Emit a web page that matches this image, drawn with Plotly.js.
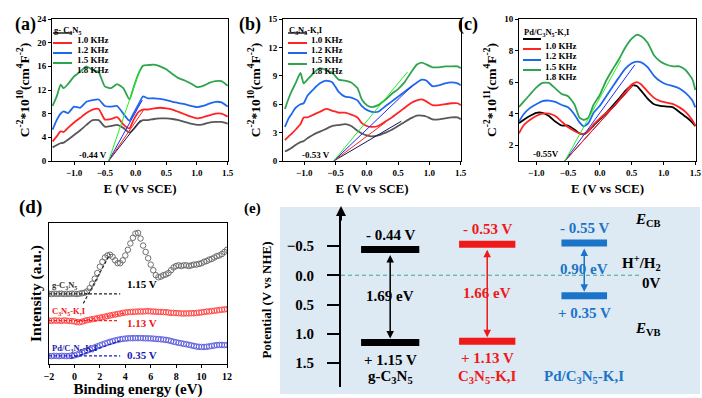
<!DOCTYPE html>
<html>
<head>
<meta charset="utf-8">
<script src="https://cdn.plot.ly/plotly-3.0.1.min.js"></script>
<style>
  html, body { margin: 0; padding: 0; background: #fff; }
  #chart { width: 702px; height: 398px; }
</style>
</head>
<body>
<div id="chart"></div>
<script>
// ---------- data ----------
const FREQS = ['1.0 KHz', '1.2 KHz', '1.5 KHz', '1.8 KHz'];

// (a) g-C3N5, Mott-Schottky, C^-2 * 1e10
const A_E   = [-1.35, -1.28, -1.22, -1.17, -1.1, -1.0, -0.9, -0.8, -0.7, -0.6, -0.5, -0.4, -0.3, -0.2, -0.1, -0.03, 0.05, 0.12, 0.2, 0.3, 0.4, 0.5, 0.6, 0.7, 0.8, 0.9, 1.0, 1.1, 1.2, 1.3, 1.4, 1.5];
const A_1K0 = [2.3, 2.7, 3.0, 3.1, 3.6, 4.4, 5.2, 6.1, 6.9, 6.9, 5.8, 5.9, 6.1, 5.6, 4.8, 5.4, 6.4, 6.9, 6.9, 7.1, 7.2, 7.2, 7.1, 6.9, 6.6, 6.3, 6.1, 6.2, 6.5, 6.6, 6.6, 6.3];
const A_1K2 = [3.3, 4.2, 5.0, 4.9, 5.6, 6.5, 7.3, 8.1, 8.7, 8.8, 7.0, 7.1, 7.4, 6.2, 5.5, 7.0, 8.3, 8.7, 8.7, 8.9, 9.0, 8.9, 8.7, 8.3, 7.9, 7.5, 7.2, 7.4, 7.7, 8.0, 8.0, 7.5];
const A_1K5 = [5.3, 7.0, 8.0, 8.4, 8.1, 9.2, 9.0, 10.0, 10.3, 10.4, 9.3, 9.2, 9.3, 8.0, 6.8, 8.1, 9.6, 10.9, 10.6, 10.6, 10.5, 10.3, 10.0, 9.8, 9.6, 9.3, 9.1, 9.3, 9.7, 10.0, 9.9, 9.2];
const A_1K8 = [9.3, 11.0, 12.9, 12.3, 13.0, 14.3, 15.1, 16.0, 15.4, 15.0, 12.6, 12.3, 13.0, 12.3, 10.4, 12.5, 14.8, 16.1, 16.2, 16.3, 16.0, 15.5, 14.7, 14.0, 13.6, 13.1, 12.5, 12.7, 13.2, 13.5, 13.5, 12.7];
const A_ONSET = -0.44;
const A_TAN_X = [0.08, 0.13, 0.11, 0.07];
const A_TAN_Y = [6.9, 8.6, 10.3, 15.4];

// (b) C3N5-K,I, C^-2 * 1e10
const B_E   = [-1.31, -1.25, -1.2, -1.14, -1.06, -1.01, -0.95, -0.85, -0.75, -0.65, -0.55, -0.45, -0.35, -0.25, -0.15, -0.08, 0.0, 0.08, 0.18, 0.3, 0.4, 0.5, 0.6, 0.7, 0.8, 0.88, 0.95, 1.05, 1.15, 1.25, 1.35, 1.45, 1.5];
const B_1K0 = [1.0, 1.2, 1.4, 1.7, 2.0, 2.1, 2.4, 2.8, 3.1, 3.4, 3.7, 3.8, 3.9, 3.7, 3.2, 2.9, 2.7, 2.6, 2.7, 3.0, 3.3, 3.7, 4.1, 4.5, 4.8, 4.8, 4.7, 4.4, 4.4, 4.5, 4.6, 4.6, 4.4];
const B_1K2 = [2.2, 2.6, 2.9, 3.3, 3.9, 4.6, 4.6, 4.9, 5.2, 5.5, 5.3, 5.1, 5.1, 4.9, 4.6, 4.0, 3.7, 3.6, 3.7, 4.2, 4.6, 5.1, 5.6, 6.1, 6.4, 6.5, 6.3, 5.9, 5.9, 6.0, 6.1, 6.1, 5.9];
const B_1K5 = [3.6, 4.5, 5.0, 5.6, 6.0, 6.1, 6.9, 7.6, 8.2, 8.5, 8.3, 7.3, 6.8, 6.7, 6.4, 5.8, 5.4, 5.2, 5.2, 5.8, 6.3, 6.8, 7.3, 7.8, 8.3, 8.6, 8.5, 7.9, 8.0, 8.2, 8.3, 8.2, 8.0];
const B_1K8 = [5.5, 6.6, 7.4, 8.2, 9.3, 8.2, 8.6, 9.3, 9.8, 9.6, 9.3, 8.6, 8.5, 8.3, 7.7, 6.5, 5.9, 5.7, 5.9, 6.5, 7.1, 7.6, 8.3, 9.3, 10.2, 10.4, 10.2, 9.9, 9.9, 10.0, 10.0, 10.0, 9.8];
const B_ONSET = -0.53;
const B_TAN_X = [0.55, 0.3, 0.72, 0.65];
const B_TAN_Y = [4.2, 4.1, 7.9, 9.4];

// (c) Pd/C3N5-K,I, C^-2 * 1e11
const C_E   = [-1.27, -1.2, -1.1, -1.0, -0.9, -0.8, -0.7, -0.6, -0.5, -0.4, -0.32, -0.25, -0.18, -0.1, 0.0, 0.1, 0.2, 0.3, 0.4, 0.5, 0.58, 0.65, 0.75, 0.85, 0.95, 1.05, 1.15, 1.25, 1.35, 1.45, 1.5];
const C_1K0 = [3.4, 3.6, 3.85, 4.05, 4.05, 3.85, 3.5, 3.25, 3.25, 3.0, 2.75, 2.7, 2.9, 3.25, 3.65, 4.05, 4.5, 4.95, 5.45, 5.8, 5.75, 5.45, 4.95, 4.6, 4.5, 4.45, 4.4, 4.1, 3.8, 3.45, 3.2];
const C_1K2 = [2.75, 3.25, 3.6, 3.85, 4.0, 4.0, 3.85, 3.5, 3.15, 2.9, 2.75, 2.7, 2.9, 3.3, 3.7, 4.05, 4.4, 4.85, 5.35, 5.85, 6.0, 5.85, 5.4, 5.0, 4.8, 4.7, 4.6, 4.4, 4.1, 3.6, 3.25];
const C_1K5 = [3.5, 3.95, 4.35, 4.6, 4.8, 4.83, 4.75, 4.55, 4.4, 3.95, 3.45, 3.2, 3.4, 4.05, 4.5, 5.1, 5.7, 6.3, 6.85, 7.2, 7.3, 7.25, 6.95, 6.4, 6.05, 5.85, 5.75, 5.6, 5.3, 4.85, 4.4];
const C_1K8 = [4.43, 4.75, 5.2, 5.65, 5.95, 5.95, 5.6, 5.25, 5.1, 4.6, 3.75, 3.6, 3.75, 4.55, 5.2, 6.1, 6.8, 7.45, 8.2, 8.75, 9.0, 8.9, 8.5, 7.7, 7.3, 7.1, 7.0, 7.0, 6.75, 6.2, 5.5];
const C_ONSET = -0.55;
const C_TAN_X = [0.5, 0.55, 0.55, 0.33];
const C_TAN_Y = [5.7, 5.9, 7.1, 7.4];

// (d) VB-XPS, intensity in arbitrary units
const D_E = [-2, -1.8, -1.6, -1.4, -1.2, -1, -0.8, -0.6, -0.4, -0.2, 0, 0.2, 0.4, 0.6, 0.8, 1, 1.2, 1.4, 1.6, 1.8, 2, 2.2, 2.4, 2.6, 2.8, 3, 3.2, 3.4, 3.6, 3.8, 4, 4.2, 4.4, 4.6, 4.8, 5, 5.2, 5.4, 5.6, 5.8, 6, 6.2, 6.4, 6.6, 6.8, 7, 7.2, 7.4, 7.6, 7.8, 8, 8.2, 8.4, 8.6, 8.8, 9, 9.2, 9.4, 9.6, 9.8, 10, 10.2, 10.4, 10.6, 10.8, 11, 11.2, 11.4, 11.6, 11.8, 12];
const D_GC3N5 = [49.8, 49.6, 49.9, 49.7, 49.8, 49.9, 49.6, 49.8, 49.7, 49.9, 49.8, 49.6, 49.9, 50.2, 50.6, 51.5, 53.8, 57, 60.5, 64.5, 69, 72.5, 75.5, 77, 77.5, 76, 73.5, 71.5, 71.5, 73.5, 77, 81, 85.5, 89.5, 92.5, 93, 89, 84, 79.5, 75, 70.5, 66.5, 63, 61.5, 62, 63, 63.5, 64.5, 66.5, 68.5, 69.5, 70, 69.5, 70, 70, 69.5, 70, 70.5, 70.5, 71, 71.5, 72.5, 73, 74, 74.5, 75.5, 76.5, 77, 78, 79.5, 81];
const D_KI = [30.8, 30.6, 30.9, 30.7, 30.8, 30.6, 30.9, 30.7, 30.6, 30.4, 30.2, 29.7, 29.6, 30.0, 30.6, 31.1, 31.4, 31.8, 32.1, 32.5, 32.9, 33.2, 33.6, 34.0, 34.4, 34.8, 35.1, 35.5, 35.8, 36.2, 36.5, 36.7, 36.9, 37.0, 37.1, 37.2, 37.3, 37.2, 37.4, 37.5, 37.3, 37.2, 37.1, 37.0, 36.9, 36.8, 36.7, 36.5, 36.3, 36.2, 36.1, 36.0, 35.9, 35.8, 35.9, 35.9, 36.0, 36.0, 36.2, 36.4, 36.6, 36.9, 37.2, 37.3, 37.5, 37.8, 38.0, 38.3, 38.5, 38.7, 38.9];
const D_PD = [5.7, 5.6, 5.8, 5.7, 5.6, 5.8, 5.7, 5.6, 5.7, 5.8, 6.1, 6.7, 7.4, 8.1, 8.8, 9.5, 10.2, 11.0, 11.8, 12.5, 13.2, 13.9, 14.5, 15.1, 15.7, 16.2, 16.7, 17.1, 17.5, 17.8, 18.0, 18.2, 18.3, 18.3, 18.4, 18.3, 18.4, 18.3, 18.2, 18.2, 18.1, 18.0, 17.8, 17.7, 17.5, 17.3, 17.1, 16.8, 16.3, 15.8, 15.4, 15.0, 14.7, 14.3, 14.0, 13.6, 13.2, 12.8, 12.4, 12.2, 12.1, 12.1, 12.2, 12.5, 12.8, 13.1, 13.4, 13.5, 13.5, 13.4, 13.5];
const D_ONSET = ['1.15 V', '1.13 V', '0.35 V'];
const D_BASE = [49.8, 30.8, 5.7];
const D_BASE_END = [3.6, 3.4, 3.6];
const D_TAN_X = [[0.7, 2.8], [0.2, 4.0], [-0.3, 3.6]];
const D_TAN_Y = [[43, 78], [29.8, 36.3], [3.9, 16.5]];

// (e) band positions vs NHE
const E_NAMES = ['g-C<sub>3</sub>N<sub>5</sub>', 'C<sub>3</sub>N<sub>5</sub>-K,I', 'Pd/C<sub>3</sub>N<sub>5</sub>-K,I'];
const E_CB  = [-0.44, -0.53, -0.55];
const E_VB  = [1.15, 1.13, 0.35];
const E_GAP = [1.69, 1.66, 0.90];

// ---------- layout helpers ----------
const W = 702, H = 398;
const px = x => x / W;
const py = y => 1 - y / H;
const SERIF = '"Liberation Serif", "Times New Roman", serif';

const LINE_COLORS = ['#585858', '#ff2424', '#1f68ee', '#2fa44f'];
const TANGENT_COLORS = ['#14145a', '#ff2020', '#1b2fe6', '#22ee22'];
const BAND_COLORS = ['#000000', '#f01818', '#1b74c8'];
const XPS_COLORS = ['#6e6e6e', '#ff4a4a', '#6262dc'];
const XPS_TEXT = ['#333333', '#f01818', '#1a1ab0'];

// plot boxes in px: left, top, right, bottom
const BOX = {
    a: [52, 19, 228, 161],
    b: [283, 19, 461, 161],
    c: [519, 19, 696, 161],
    d: [49, 223, 227, 364],
    e: [341, 213, 700, 387]
};
const xdom = b => [px(b[0]), px(b[2])];
const ydom = b => [py(b[3]), py(b[1])];

const traces = [];
const annotations = [];
const shapes = [];

function framedAxis(extra) {
    return Object.assign({
        showline: true, linecolor: '#000', linewidth: 1, mirror: true,
        ticks: 'outside', ticklen: 3, tickwidth: 1, tickcolor: '#000',
        showgrid: false, zeroline: false, tickfont: { size: 9 }
    }, extra);
}

function textAt(xref, yref, x, y, text, size, color, extra) {
    annotations.push(Object.assign({
        xref: xref, yref: yref, x: x, y: y, text: text, showarrow: false,
        font: { size: size, color: color || '#000' }
    }, extra || {}));
}

// small hand-drawn legend, plotly's own legend rows are too tall here
function miniLegend(title, lx, ly, rows, colors, lineEnd, textX) {
    textAt('paper', 'paper', px(lx - 1), py(ly), title, 8.5, '#000', { xanchor: 'left' });
    FREQS.forEach((f, i) => {
        shapes.push({
            type: 'line', xref: 'paper', yref: 'paper',
            x0: px(lx), x1: px(lineEnd), y0: py(rows[i]), y1: py(rows[i]),
            line: { color: colors[i], width: 2 }
        });
        textAt('paper', 'paper', px(textX), py(rows[i]), f, 9, '#000', { xanchor: 'left' });
    });
}

function msPanel(s, E, series, colors, onset, floor, tanX, tanY) {
    series.forEach((ys, i) => {
        traces.push({
            x: E, y: ys, xaxis: 'x' + s, yaxis: 'y' + s, type: 'scatter', mode: 'lines',
            line: { color: colors[i], width: 1.8, shape: 'spline', smoothing: 0.5 },
            hoverinfo: 'skip'
        });
    });
    tanX.forEach((tx, i) => {
        traces.push({
            x: [onset, tx], y: [floor, tanY[i]], xaxis: 'x' + s, yaxis: 'y' + s,
            type: 'scatter', mode: 'lines',
            line: { color: TANGENT_COLORS[i], width: 1 }, hoverinfo: 'skip'
        });
    });
}

const MS_XTITLE = { text: 'E (V vs SCE)', font: { size: 13 }, standoff: 7 };
const msYTitle = p => ({
    text: 'C<sup>-2</sup>*10<sup>' + p + '</sup>(cm<sup>4</sup>F<sup>-2</sup>)',
    font: { size: 13.5 }, standoff: 4
});
const MS_XTICKS = [-1, -0.5, 0, 0.5, 1, 1.5];

// ---------- (a) (b) (c) ----------
msPanel('', A_E, [A_1K0, A_1K2, A_1K5, A_1K8], LINE_COLORS, A_ONSET, 0, A_TAN_X, A_TAN_Y);
msPanel('2', B_E, [B_1K0, B_1K2, B_1K5, B_1K8], LINE_COLORS, B_ONSET, 0, B_TAN_X, B_TAN_Y);
const C_COLORS = ['#000000'].concat(LINE_COLORS.slice(1));
msPanel('3', C_E, [C_1K0, C_1K2, C_1K5, C_1K8], C_COLORS, C_ONSET, 1, C_TAN_X, C_TAN_Y);

textAt('x', 'y', -0.69, 1.0, A_ONSET.toFixed(2) + ' V', 9);
textAt('x2', 'y2', -0.81, 0.65, B_ONSET.toFixed(2) + ' V', 9);
textAt('x3', 'y3', -0.845, 1.45, C_ONSET.toFixed(2) + 'V', 9);

miniLegend('g- C<sub>3</sub>N<sub>5</sub>', 53, 23, [33, 43, 53, 63], LINE_COLORS, 72, 75);
miniLegend('C<sub>3</sub>N<sub>5</sub>-K,I', 288, 23, [33, 43, 53, 64], LINE_COLORS, 307, 309);
miniLegend('Pd/C<sub>3</sub>N<sub>5</sub>-K,I', 523, 25, [39, 49, 60, 70], C_COLORS, 541, 543);

// ---------- (d) ----------
[D_GC3N5, D_KI, D_PD].forEach((ys, i) => {
    traces.push({
        x: D_E, y: ys, xaxis: 'x4', yaxis: 'y4', type: 'scatter', mode: 'markers',
        marker: { symbol: 'circle-open', size: 5.5, line: { width: 1, color: XPS_COLORS[i] }, color: XPS_COLORS[i] },
        hoverinfo: 'skip'
    });
});
const D_DASH = ['#222222', '#ff2020', '#1a1acc'];
D_BASE.forEach((b, i) => {
    traces.push({
        x: [-2, D_BASE_END[i]], y: [b, b], xaxis: 'x4', yaxis: 'y4', type: 'scatter', mode: 'lines',
        line: { color: D_DASH[i], width: 1.2, dash: '3px,2px' }, hoverinfo: 'skip'
    });
    traces.push({
        x: D_TAN_X[i], y: D_TAN_Y[i], xaxis: 'x4', yaxis: 'y4', type: 'scatter', mode: 'lines',
        line: { color: D_DASH[i], width: 1.2, dash: '3px,2px' }, hoverinfo: 'skip'
    });
});
const D_NAMES = ['g-C<sub>3</sub>N<sub>5</sub>', 'C<sub>3</sub>N<sub>5</sub>-K,I', 'Pd/C<sub>3</sub>N<sub>5</sub>-K,I'];
const D_NAME_Y = [56, 36.9, 11.3];
const D_ONSET_Y = [56.7, 29, 6.4];
D_NAMES.forEach((n, i) => {
    textAt('x4', 'y4', -1.9, D_NAME_Y[i], n, 8.5, XPS_TEXT[i], { xanchor: 'left' });
    textAt('x4', 'y4', 5.3, D_ONSET_Y[i], D_ONSET[i], 11, i === 0 ? '#000' : XPS_TEXT[i]);
});

// ---------- (e) ----------
shapes.push({
    type: 'rect', xref: 'paper', yref: 'paper', layer: 'below',
    x0: px(280), x1: px(700), y0: py(394), y1: py(207),
    fillcolor: '#dde9f3', line: { width: 0 }
});
shapes.push({
    type: 'line', xref: 'x5 domain', yref: 'y5', x0: 0, x1: 0.832, y0: 0, y1: 0,
    line: { color: '#3aa89a', width: 1.2, dash: '4px,3px' }
});
const BAR_HALF = [0.3, 0.29, 0.235];
E_CB.forEach((cb, i) => {
    const vb = E_VB[i], h = BAR_HALF[i], col = BAND_COLORS[i];
    traces.push({
        x: [i - h, i + h, null, i - h, i + h], y: [cb, cb, null, vb, vb],
        xaxis: 'x5', yaxis: 'y5', type: 'scatter', mode: 'lines',
        line: { color: col, width: 7 }, hoverinfo: 'skip'
    });
    annotations.push({
        xref: 'x5', yref: 'y5', axref: 'x5', ayref: 'y5',
        x: i, y: vb, ax: i, ay: cb, text: '', showarrow: true,
        arrowhead: 2, arrowside: 'end+start', arrowsize: 1, arrowwidth: 1.5,
        arrowcolor: col, standoff: 4, startstandoff: 4
    });
    textAt('x5', 'y5', i, cb, '- ' + Math.abs(cb).toFixed(2) + ' V', 15, col, { yshift: 15 });
    textAt('x5', 'y5', i, vb, '+ ' + vb.toFixed(2) + ' V', 15, col, { yshift: -17 });
    textAt('x5', 'y5', i, (cb + vb) / 2, E_GAP[i].toFixed(2) + ' eV', 15, col);
    textAt('x5', 'paper', i, py(388), E_NAMES[i], 15, col);
});
// y-axis arrow head
annotations.push({
    xref: 'paper', yref: 'paper', x: px(341), y: py(206), ax: 0, ay: 16,
    text: '', showarrow: true, arrowhead: 2, arrowsize: 1, arrowwidth: 2, arrowcolor: '#000'
});
textAt('paper', 'paper', px(663), py(220), '<i>E</i><sub>CB</sub>', 15);
textAt('paper', 'paper', px(663), py(275), 'H<sup>+</sup>/H<sub>2</sub>', 15);
textAt('paper', 'paper', px(663), py(293), '0V', 15);
textAt('paper', 'paper', px(663), py(340), '<i>E</i><sub>VB</sub>', 15);

// panel letters
textAt('paper', 'paper', px(13), py(12), '(a)', 18);
textAt('paper', 'paper', px(250), py(12), '(b)', 18);
textAt('paper', 'paper', px(480), py(12), '(c)', 18);
textAt('paper', 'paper', px(17), py(207), '(d)', 19);
textAt('paper', 'paper', px(253), py(208), '(e)', 15);

const layout = {
    width: W, height: H,
    margin: { l: 0, r: 0, t: 0, b: 0 },
    paper_bgcolor: '#ffffff',
    plot_bgcolor: 'rgba(0,0,0,0)',
    showlegend: false,
    font: { family: SERIF, size: 10, color: '#000', weight: 'bold' },

    xaxis: framedAxis({ domain: xdom(BOX.a), anchor: 'y', range: [-1.36, 1.505], tickvals: MS_XTICKS, tickformat: '.1f', title: MS_XTITLE }),
    yaxis: framedAxis({ domain: ydom(BOX.a), anchor: 'x', range: [0, 24], dtick: 4, title: msYTitle(10) }),
    xaxis2: framedAxis({ domain: xdom(BOX.b), anchor: 'y2', range: [-1.34, 1.505], tickvals: MS_XTICKS, tickformat: '.1f', title: MS_XTITLE }),
    yaxis2: framedAxis({ domain: ydom(BOX.b), anchor: 'x2', range: [0, 15], dtick: 3, title: msYTitle(10) }),
    xaxis3: framedAxis({ domain: xdom(BOX.c), anchor: 'y3', range: [-1.27, 1.51], tickvals: MS_XTICKS, tickformat: '.1f', title: MS_XTITLE }),
    yaxis3: framedAxis({ domain: ydom(BOX.c), anchor: 'x3', range: [1, 10], tickvals: [2, 4, 6, 8, 10], title: msYTitle(11) }),

    xaxis4: framedAxis({ domain: xdom(BOX.d), anchor: 'y4', range: [-2, 12], dtick: 2, tickfont: { size: 10 }, title: { text: 'Binding energy (eV)', font: { size: 15 }, standoff: 6 } }),
    yaxis4: framedAxis({ domain: ydom(BOX.d), anchor: 'x4', range: [0, 100], ticks: '', showticklabels: false, title: { text: 'Intensity (a.u.)', font: { size: 15.5 }, standoff: 2 } }),

    xaxis5: { domain: xdom(BOX.e), anchor: 'y5', range: [-0.507, 3.193], visible: false },
    yaxis5: {
        domain: ydom(BOX.e), anchor: 'x5', range: [1.91, -1.064],
        showline: true, linecolor: '#000', linewidth: 2,
        ticks: 'outside', ticklen: 12, tickwidth: 2, tickcolor: '#000', ticklabelstandoff: 10,
        tickvals: [-0.5, 0, 0.5, 1, 1.5], tickformat: '.1f', tickfont: { size: 15 },
        showgrid: false, zeroline: false,
        title: { text: 'Potential (V vs NHE)', font: { size: 13 }, standoff: 12 }
    },

    annotations: annotations,
    shapes: shapes
};

Plotly.newPlot('chart', traces, layout, { displayModeBar: false, staticPlot: true });
</script>
</body>
</html>
